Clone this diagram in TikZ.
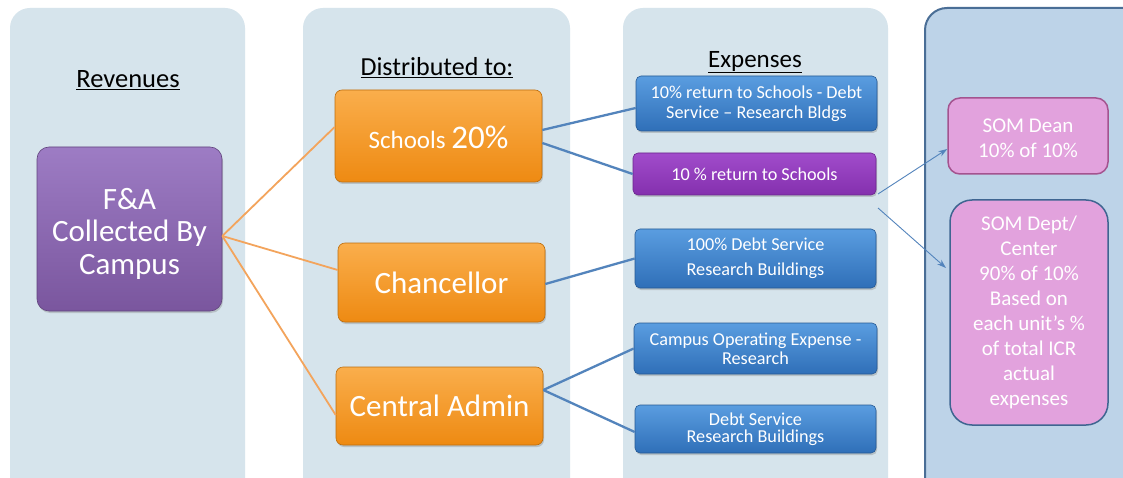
\documentclass[tikz,border=0pt]{standalone}
\usepackage{fontspec}
\setmainfont{Carlito}
\usetikzlibrary{arrows.meta,shadows}
\definecolor{panel}{HTML}{D6E4EC}
\definecolor{panelR}{HTML}{BDD3E8}
\definecolor{panelRb}{HTML}{4A6E96}
\definecolor{orT}{HTML}{FAAE4C}
\definecolor{orB}{HTML}{EE8A12}
\definecolor{blT}{HTML}{5A9DE0}
\definecolor{blB}{HTML}{2F6FB8}
\definecolor{puT}{HTML}{9D7CC4}
\definecolor{puB}{HTML}{7A569E}
\definecolor{vpT}{HTML}{A14CCB}
\definecolor{vpB}{HTML}{8430AE}
\definecolor{pink}{HTML}{E2A2DD}
\definecolor{pinkb}{HTML}{A4538F}
\definecolor{deptb}{HTML}{3F6591}
\definecolor{orln}{HTML}{F3A45C}
\definecolor{blln}{HTML}{5384BC}
\tikzset{
  panelbox/.style={fill=panel,draw=none,rounded corners=20pt},
  heading/.style={text=black},
  obox/.style={rounded corners=7pt,top color=orT,bottom color=orB,draw=orB!80!black,line width=0.6pt,
     text=white,align=center,drop shadow={opacity=0.35,shadow xshift=1pt,shadow yshift=-2pt},inner sep=0pt},
  bbox/.style={rounded corners=5pt,top color=blT,bottom color=blB,draw=blB!80!black,line width=0.6pt,
     text=white,align=center,font=\fontsize{18.2}{20}\selectfont,drop shadow={opacity=0.35,shadow xshift=1pt,shadow yshift=-2pt},inner sep=0pt},
  pbox/.style={rounded corners=12pt,top color=puT,bottom color=puB,draw=puB!80!black,line width=0.6pt,
     text=white,align=center,font=\fontsize{31}{32.5}\selectfont,drop shadow={opacity=0.35,shadow xshift=1pt,shadow yshift=-2pt},inner sep=0pt},
  sombox/.style={fill=pink,text=white,align=center,font=\fontsize{21}{25}\selectfont,inner sep=0pt,line width=1.5pt},
  oline/.style={draw=orln,line width=1.8pt},
  bline/.style={draw=blln,line width=2.3pt},
  aline/.style={draw=blln,line width=0.9pt,-{Stealth[length=9pt,width=6pt]}},
}
\begin{document}
\begin{tikzpicture}[x=1pt,y=-1pt]
\useasboundingbox (0,0) rectangle (1123,478);
\clip (0,0) rectangle (1123,478);
\fill[white] (0,0) rectangle (1123,478);
% panels
\fill[panelbox] (10,8) rectangle (245,500);
\fill[panelbox] (303,8) rectangle (570,500);
\fill[panelbox] (623,8) rectangle (888,500);
\draw[fill=panelR,draw=panelRb,line width=2pt,rounded corners=22pt] (925,8) rectangle (1150,500);
% headings
\node[heading,font=\fontsize{26.5}{28}\selectfont] (hrev) at (128,80) {\underline{Revenues}};
\node[heading,font=\fontsize{26}{28}\selectfont] (hdis) at (437,68) {\underline{Distributed to:}};
\node[heading,font=\fontsize{25}{28}\selectfont] (hexp) at (755,62) {\underline{Expenses}};
% nodes
\node[pbox,minimum width=185pt,minimum height=164pt] (fa) at (129.5,229) {\rule{0pt}{30pt}F\&A\\Collected By\\Campus};
\node[obox,minimum width=207pt,minimum height=92pt] (sch) at (438.5,136)
  {\rule{0pt}{26pt}\fontsize{25}{28}\selectfont Schools \fontsize{33}{34}\selectfont 20\%};
\node[obox,minimum width=207pt,minimum height=79pt,font=\fontsize{31}{33}\selectfont] (chan) at (441.5,282.5) {Chancellor};
\node[obox,minimum width=207pt,minimum height=78pt,font=\fontsize{31}{33}\selectfont] (cad) at (439.5,406) {Central Admin};
\node[bbox,minimum width=241pt,minimum height=55pt] (b1) at (756.5,103.5) {10\% return to Schools - Debt\\Service -- Research Bldgs};
\node[bbox,minimum width=243pt,minimum height=42pt,top color=vpT,bottom color=vpB,draw=vpB!80!black] (b2) at (754.5,174) {10 \% return to Schools};
\node[bbox,minimum width=241pt,minimum height=59pt,font=\fontsize{18.2}{25}\selectfont] (b3) at (755.5,258.5) {100\% Debt Service\\Research Buildings};
\node[bbox,minimum width=243pt,minimum height=51pt,font=\fontsize{18.2}{19}\selectfont] (b4) at (755.5,348.5) {Campus Operating Expense -\\Research};
\node[bbox,minimum width=241pt,minimum height=48pt,font=\fontsize{18.2}{17.5}\selectfont] (b5) at (755.5,429) {Debt Service\\Research Buildings};
\node[sombox,draw=pinkb,rounded corners=12pt,minimum width=160pt,minimum height=76pt] (dean) at (1028,136) {\rule{0pt}{19pt}SOM Dean\\10\% of 10\%};
\node[sombox,draw=deptb,rounded corners=22pt,minimum width=158pt,minimum height=225pt] (dept) at (1029,312.5)
  {SOM Dept/\\Center\\90\% of 10\%\\Based on\\each unit’s \%\\of total ICR\\actual\\expenses};
% orange connectors
\draw[oline] ([yshift=-7pt]fa.east) -- ([yshift=9pt]sch.west);
\draw[oline] ([yshift=-7pt]fa.east) -- ([yshift=12.5pt]chan.west);
\draw[oline] ([yshift=-7pt]fa.east) -- ([yshift=-9pt]cad.west);
% blue connectors
\draw[bline] ([yshift=6pt]sch.east) -- ([yshift=-4.5pt]b1.west);
\draw[bline] ([yshift=-7pt]sch.east) -- (b2.west);
\draw[bline] ([yshift=-1.5pt]chan.east) -- (b3.west);
\draw[bline] ([yshift=16pt]cad.east) -- (b4.west);
\draw[bline] ([yshift=16pt]cad.east) -- ([yshift=-3pt]b5.west);
% arrows
\coordinate (s1) at (878,194);
\coordinate (s2) at (878,208);
\coordinate (e2) at (946,268);
\draw[aline] (s1) -- ([yshift=-13pt]dean.west);
\draw[aline] (s2) -- (e2);
\end{tikzpicture}
\end{document}
